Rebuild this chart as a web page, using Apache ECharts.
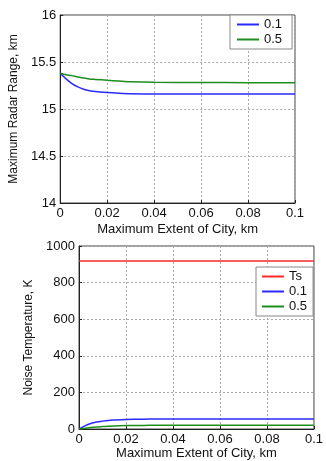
<!DOCTYPE html>
<html style="height: 100%">

<head>
    <meta charset="utf-8">
</head>

<body style="height: 100%; margin: 0; background: #fff">
    <div id="container" style="width: 326px; height: 461px"></div>
    <script type="text/javascript" src="https://cdn.jsdelivr.net/npm/echarts@6/dist/echarts.min.js"></script>
    <script type="text/javascript">

        // x positions (km) shared by all curves
        var extent = [0, 0.0025, 0.005, 0.0075, 0.01, 0.0125, 0.015, 0.02, 0.025, 0.03, 0.04, 0.06, 0.08, 0.1];

        // top: maximum radar range, km
        var range01 = [15.38, 15.32, 15.27, 15.235, 15.21, 15.195, 15.185, 15.175, 15.168, 15.163, 15.16, 15.16, 15.16, 15.16];
        var range05 = [15.38, 15.365, 15.355, 15.34, 15.33, 15.32, 15.315, 15.305, 15.297, 15.29, 15.285, 15.282, 15.28, 15.28];

        // bottom: noise temperature, K
        var noiseTs = [918, 918, 918, 918, 918, 918, 918, 918, 918, 918, 918, 918, 918, 918];
        var noise01 = [0, 17, 30, 38, 43, 47, 49, 52, 53, 54, 55, 55, 55, 55];
        var noise05 = [0, 4, 8, 11, 13, 15, 17, 19, 19.5, 20, 20, 20, 20, 20];

        var xTicks = { min: 0, max: 0.1, interval: 0.02 };

        function pairs(ys) {
            return extent.map(function (x, i) { return [x, ys[i]]; });
        }

        var font = 'Liberation Sans, Arial, sans-serif';
        var blue = '#2a2aff';
        var green = '#1e8c1e';
        var red = '#ff2a2a';

        function xAxis(gridIndex, nameGap) {
            return {
                type: 'value', gridIndex: gridIndex,
                min: xTicks.min, max: xTicks.max, interval: xTicks.interval,
                name: 'Maximum Extent of City, km', nameLocation: 'middle', nameGap: nameGap,
                nameTextStyle: { fontFamily: font, fontSize: 13, color: '#111' },
                axisLine: { lineStyle: { color: '#222' } },
                axisTick: { inside: true, length: 3, lineStyle: { color: '#222' } },
                axisLabel: { fontFamily: font, fontSize: 13, color: '#111', margin: 4 },
                splitLine: { show: true, lineStyle: { color: '#aaa', type: [2, 2] } }
            };
        }

        function yAxis(gridIndex, name, nameGap, min, max, interval) {
            return {
                type: 'value', gridIndex: gridIndex, min: min, max: max, interval: interval,
                name: name, nameLocation: 'middle', nameGap: nameGap,
                nameTextStyle: { fontFamily: font, fontSize: 12, color: '#111' },
                axisLine: { show: true, lineStyle: { color: '#222' } },
                axisTick: { inside: true, length: 3, lineStyle: { color: '#222' } },
                axisLabel: {
                    fontFamily: font, fontSize: 13, color: '#111', margin: 4,
                    formatter: function (v) { return String(v); }
                },
                splitLine: { show: true, lineStyle: { color: '#aaa', type: [2, 2] } }
            };
        }

        function line(name, color, xi, data) {
            return {
                type: 'line', name: name, xAxisIndex: xi, yAxisIndex: xi,
                data: data, showSymbol: false, smooth: 0.3,
                lineStyle: { color: color, width: 1.5 }, itemStyle: { color: color }
            };
        }

        var legendStyle = {
            orient: 'vertical', backgroundColor: '#fff', borderColor: '#888', borderWidth: 1,
            itemGap: 2, itemWidth: 22, itemHeight: 2,
            icon: 'rect', textStyle: { fontFamily: font, fontSize: 13, color: '#111' }
        };

        var dom = document.getElementById("container");
        var myChart = echarts.init(dom);

        var option = {
            animation: false,
            grid: [
                { left: 53, top: 15, width: 242, height: 188, show: true, borderColor: '#444', borderWidth: 1 },
                { left: 79, top: 246, width: 242, height: 191, show: true, borderColor: '#444', borderWidth: 1 }
            ],
            legend: [
                Object.assign({ data: ['0.1', '0.5'], left: 230, top: 15, padding: [3, 10, 3, 7] }, legendStyle),
                Object.assign({ data: ['Ts', '0.1', '0.5'], left: 256, top: 267, padding: [3, 6, 3, 6] }, legendStyle)
            ],
            xAxis: [xAxis(0, 20), xAxis(1, 18)],
            yAxis: [
                yAxis(0, 'Maximum Radar Range, km', 31, 14, 16, 0.5),
                yAxis(1, 'Noise Temperature, K', 33, 0, 1000, 200)
            ],
            series: [
                line('0.1', blue, 0, pairs(range01)),
                line('0.5', green, 0, pairs(range05)),
                line('Ts', red, 1, pairs(noiseTs)),
                line('0.1', blue, 1, pairs(noise01)),
                line('0.5', green, 1, pairs(noise05))
            ]
        };

        myChart.setOption(option);
    </script>
</body>

</html>
